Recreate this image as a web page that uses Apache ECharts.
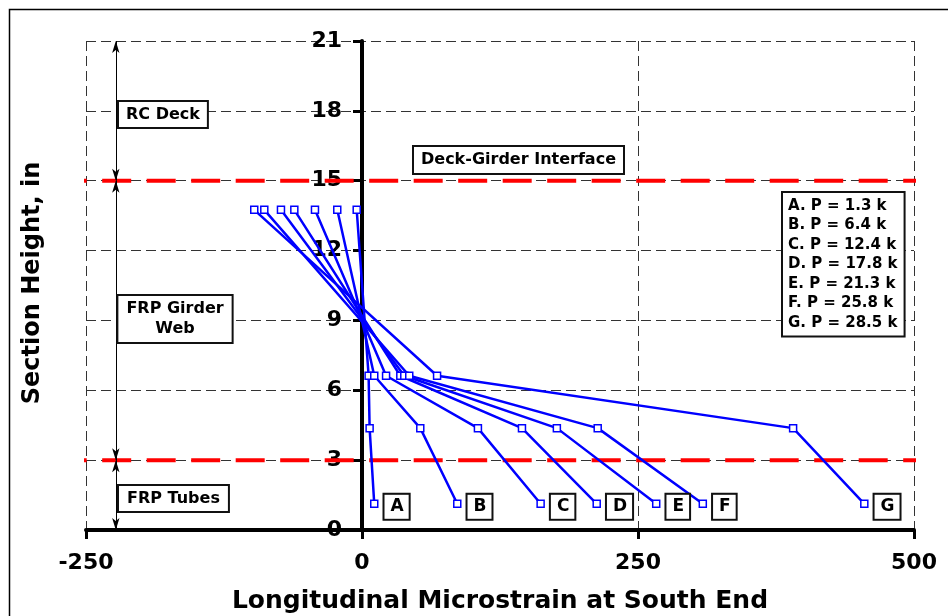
<!DOCTYPE html>
<html><head><meta charset="utf-8">
<script src="https://cdn.jsdelivr.net/npm/echarts@6/dist/echarts.min.js"></script>
<style>html,body{margin:0;padding:0;background:#fff}#c{width:948px;height:616px}</style>
</head><body><div id="c"></div>
<script>
// ---- data ----
const heights = [13.75, 6.625, 4.375, 1.125];          // gauge heights, in
const letters = ['A', 'B', 'C', 'D', 'E', 'F', 'G'];
const loads = [1.3, 6.4, 12.4, 17.8, 21.3, 25.8, 28.5]; // kips
const strainA = [-4.8, 6.0, 6.9, 11.1];
const strainB = [-22.4, 11.1, 52.8, 86.3];
const strainC = [-42.6, 21.8, 105.0, 161.8];
const strainD = [-61.3, 34.7, 144.9, 212.6];
const strainE = [-73.4, 38.3, 176.5, 266.5];
const strainF = [-88.5, 42.8, 213.5, 308.7];
const strainG = [-97.6, 68.0, 390.5, 455.0];
const xTickValues = [-250, 0, 250, 500];
const yTickValues = [0, 3, 6, 9, 12, 15, 18, 21];
const interfaceHeights = [15, 3];
const zoneBounds = [21, 15, 3, 0];
const zoneNames = ['RC Deck', 'FRP Girder\nWeb', 'FRP Tubes'];
const interfaceName = 'Deck-Girder Interface';
const xTitle = 'Longitudinal Microstrain at South End';
const yTitle = 'Section Height, in';

const allStrains = [strainA, strainB, strainC, strainD, strainE, strainF, strainG];
const FONT = '"DejaVu Sans", Verdana, sans-serif';
const BLUE = '#0000ff';

const chart = echarts.init(document.getElementById('c'), null, {renderer: 'canvas'});

const redSeries = interfaceHeights.map(h => ({
  type: 'line', silent: true, clip: false, symbol: 'none', z: 3,
  data: [[-253, h], [504, h]],
  lineStyle: {color: '#ff0000', width: 4, type: [29, 15.5], dashOffset: 25}
}));

const arrowX = -223;
const arrowPairs = [];
for (let i = 0; i < zoneBounds.length - 1; i++) {
  arrowPairs.push([{coord: [arrowX, zoneBounds[i]]}, {coord: [arrowX, zoneBounds[i + 1]]}]);
}
const arrowSeries = {
  type: 'line', data: [], silent: true, z: 3,
  markLine: {
    silent: true, animation: false, symbol: ['arrow', 'arrow'], symbolSize: [5.5, 12],
    lineStyle: {color: '#000', width: 1, type: 'solid'},
    label: {show: false}, emphasis: {disabled: true},
    data: arrowPairs
  }
};

const strainSeries = allStrains.map((vals, si) => ({
  type: 'line', name: letters[si], z: 5,
  symbol: 'rect', symbolSize: 7,
  itemStyle: {color: '#fff', borderColor: BLUE, borderWidth: 1.5},
  lineStyle: {color: BLUE, width: 2.5},
  emphasis: {disabled: true},
  data: vals.map((v, i) => {
    const item = {value: [v, heights[i]]};
    if (i === vals.length - 1) {
      item.label = {
        show: true, position: 'right', distance: 6, formatter: letters[si],
        color: '#000', fontFamily: FONT, fontWeight: 'bold', fontSize: 17,
        backgroundColor: '#fff', borderColor: '#111', borderWidth: 2,
        padding: [4, 5, 3, 6], offset: [0, 3]
      };
    }
    return item;
  })
}));

const boxStyle = {
  font: 'bold 16px ' + FONT, fill: '#000', backgroundColor: '#fff',
  borderColor: '#111', borderWidth: 2
};

const legendText = letters.map((l, i) => l + '. P = ' + loads[i].toFixed(1) + ' k').join('\n');

chart.setOption({
  animation: false,
  backgroundColor: '#fff',
  grid: {left: 86, right: 34, top: 41, bottom: 86, containLabel: false, outerBoundsMode: 'none'},
  xAxis: {
    type: 'value', min: xTickValues[0], max: xTickValues[xTickValues.length - 1], interval: 250,
    axisLine: {show: true, onZero: true, lineStyle: {color: '#000', width: 4}},
    axisTick: {show: true, length: 9, lineStyle: {color: '#000', width: 3}},
    axisLabel: {margin: 22, fontSize: 22, fontWeight: 'bold', fontFamily: FONT, color: '#000'},
    splitLine: {show: true, lineStyle: {color: '#333', width: 1, type: [10, 5]}}
  },
  yAxis: {
    type: 'value', min: yTickValues[0], max: yTickValues[yTickValues.length - 1], interval: 3,
    offset: -276,
    axisLine: {show: true, onZero: false, lineStyle: {color: '#000', width: 4}},
    axisTick: {show: true, length: 9, lineStyle: {color: '#000', width: 3}},
    axisLabel: {margin: 20, fontSize: 22, fontWeight: 'bold', fontFamily: FONT, color: '#000'},
    splitLine: {show: true, lineStyle: {color: '#333', width: 1, type: [10, 5]}}
  },
  series: [...redSeries, arrowSeries, ...strainSeries],
  graphic: [
    {type: 'rect', silent: true, z: 100, shape: {x: 9.5, y: 9.5, width: 1000, height: 1000},
     style: {fill: 'none', stroke: '#000', lineWidth: 1.5}},
    {type: 'text', silent: true, z: 100, x: 500, y: 601,
     style: {text: xTitle, font: 'bold 25px ' + FONT, fill: '#000', align: 'center', verticalAlign: 'middle'}},
    {type: 'text', silent: true, z: 100, x: 33, y: 283, rotation: Math.PI / 2,
     style: {text: yTitle, font: 'bold 24px ' + FONT, fill: '#000', align: 'center', verticalAlign: 'middle'}},
    {type: 'text', silent: true, z: 100, x: 119, y: 102,
     style: Object.assign({}, boxStyle, {text: zoneNames[0], padding: [5, 7, 4, 7], align: 'left', verticalAlign: 'top'})},
    {type: 'text', silent: true, z: 100, x: 175, y: 296,
     style: Object.assign({}, boxStyle, {text: zoneNames[1], lineHeight: 20, padding: [3, 8, 3, 8], align: 'center', verticalAlign: 'top'})},
    {type: 'text', silent: true, z: 100, x: 119, y: 486,
     style: Object.assign({}, boxStyle, {text: zoneNames[2], padding: [5, 8, 4, 8], align: 'left', verticalAlign: 'top'})},
    {type: 'text', silent: true, z: 100, x: 414, y: 147,
     style: Object.assign({}, boxStyle, {text: interfaceName, padding: [5, 7, 5, 7], align: 'left', verticalAlign: 'top'})},
    {type: 'text', silent: true, z: 100, x: 783, y: 193,
     style: Object.assign({}, boxStyle, {text: legendText, font: 'bold 15px ' + FONT, lineHeight: 19.5, padding: [3, 6, 3, 5], align: 'left', verticalAlign: 'top'})}
  ]
});
</script></body></html>
